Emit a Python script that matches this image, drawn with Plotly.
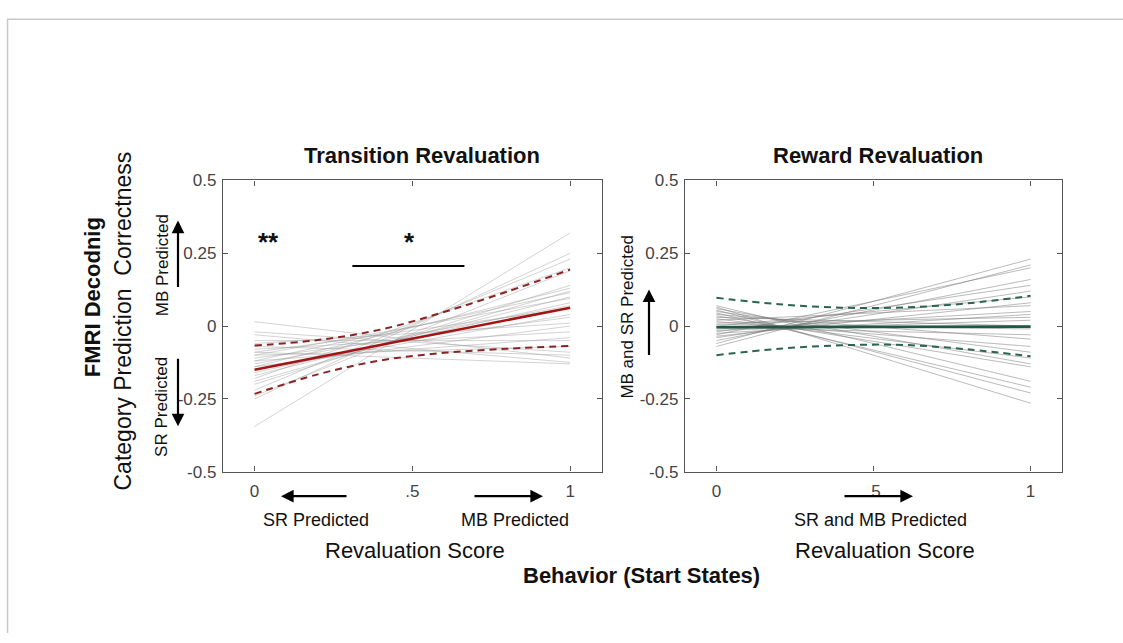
import plotly.graph_objects as go

# ---------------- data ----------------
x_fit = [0.0, 0.2, 0.4, 0.6, 0.8, 1.0]

# Transition revaluation (left)
tr_mean = [-0.150, -0.107, -0.065, -0.022, 0.020, 0.063]
tr_upper = [-0.067, -0.048, -0.012, 0.048, 0.118, 0.194]
tr_lower = [-0.233, -0.166, -0.118, -0.092, -0.078, -0.068]
tr_subj_start = [-0.345, -0.25, -0.22, -0.24, -0.18, -0.20, -0.14, -0.19, -0.12, -0.17,
                 -0.10, -0.16, -0.13, -0.09, -0.15, -0.11, -0.06, -0.14, -0.08, -0.12,
                 -0.05, -0.10, -0.02, -0.07, 0.015, -0.03, -0.09]
tr_subj_end = [0.32, 0.25, 0.23, 0.19, 0.20, 0.14, 0.13, 0.12, 0.115, 0.10,
               0.095, 0.08, 0.07, 0.06, 0.04, 0.03, 0.01, 0.0, -0.02, -0.04,
               -0.05, -0.07, -0.09, -0.10, -0.11, -0.125, -0.13]

# Reward revaluation (right)
rr_mean = [-0.004, -0.004, -0.003, -0.003, -0.002, -0.002]
rr_upper = [0.097, 0.075, 0.063, 0.064, 0.078, 0.104]
rr_lower = [-0.100, -0.078, -0.066, -0.065, -0.080, -0.104]
rr_subj_start = [-0.06, -0.07, -0.03, -0.05, -0.02, -0.04, 0.0, -0.035, 0.02, -0.01,
                 -0.025, 0.01, -0.015, 0.03, 0.005, -0.005, 0.04, 0.015, 0.05, 0.025,
                 0.06, 0.035, 0.07, 0.045, 0.055, 0.065]
rr_subj_end = [0.23, 0.21, 0.20, 0.16, 0.14, 0.12, 0.10, 0.08, 0.07, 0.05,
               0.04, 0.03, 0.02, 0.0, -0.01, -0.03, -0.045, -0.07, -0.09, -0.11,
               -0.13, -0.14, -0.19, -0.21, -0.23, -0.265]

x_tickvals = [0, 0.5, 1]
x_ticktext = ["0", ".5", "1"]
y_tickvals = [-0.5, -0.25, 0, 0.25, 0.5]
y_ticktext = ["-0.5", "-0.25", "0", "0.25", "0.5"]

# ---------------- layout helpers ----------------
W, H = 1123, 643


def px(X):
    return X / W


def py(Y):
    return 1 - Y / H


F = "Liberation Sans, Arial, Helvetica, sans-serif"


def subject_xy(starts, ends):
    xs, ys = [], []
    for s, e in zip(starts, ends):
        xs += [0, 1, None]
        ys += [s, e, None]
    return xs, ys


fig = go.Figure()

# left panel
sx, sy = subject_xy(tr_subj_start, tr_subj_end)
fig.add_trace(go.Scatter(x=sx, y=sy, mode="lines", xaxis="x", yaxis="y",
                         line=dict(color="rgba(150,150,150,0.42)", width=1), showlegend=False))
fig.add_trace(go.Scatter(x=x_fit, y=tr_upper, mode="lines", xaxis="x", yaxis="y", line_shape="spline",
                         line=dict(color="#8a2424", width=2, dash="7px,5px"), showlegend=False))
fig.add_trace(go.Scatter(x=x_fit, y=tr_lower, mode="lines", xaxis="x", yaxis="y", line_shape="spline",
                         line=dict(color="#8a2424", width=2, dash="7px,5px"), showlegend=False))
fig.add_trace(go.Scatter(x=x_fit, y=tr_mean, mode="lines", xaxis="x", yaxis="y",
                         line=dict(color="#a31515", width=2.6), showlegend=False))

# right panel
sx, sy = subject_xy(rr_subj_start, rr_subj_end)
fig.add_trace(go.Scatter(x=sx, y=sy, mode="lines", xaxis="x2", yaxis="y2",
                         line=dict(color="rgba(120,120,120,0.5)", width=1), showlegend=False))
fig.add_trace(go.Scatter(x=x_fit, y=rr_upper, mode="lines", xaxis="x2", yaxis="y2", line_shape="spline",
                         line=dict(color="#2c6450", width=2, dash="7px,5px"), showlegend=False))
fig.add_trace(go.Scatter(x=x_fit, y=rr_lower, mode="lines", xaxis="x2", yaxis="y2", line_shape="spline",
                         line=dict(color="#2c6450", width=2, dash="7px,5px"), showlegend=False))
fig.add_trace(go.Scatter(x=x_fit, y=rr_mean, mode="lines", xaxis="x2", yaxis="y2",
                         line=dict(color="#1d5a40", width=2.6), showlegend=False))

ydom = [py(476.7), py(176.7)]
axis_common = dict(showline=True, linecolor="#555", linewidth=1.4, mirror="ticks",
                   ticks="inside", ticklen=5, tickwidth=1.2, tickcolor="#555",
                   showgrid=False, zeroline=False,
                   tickfont=dict(family=F, size=17, color="#444"))

fig.update_layout(
    width=W, height=H,
    margin=dict(l=0, r=0, t=0, b=0),
    paper_bgcolor="white", plot_bgcolor="white",
    xaxis=dict(domain=[px(223), px(601.7)], range=[-0.1, 1.1], anchor="y",
               tickvals=x_tickvals, ticktext=x_ticktext, ticklabelstandoff=4, **axis_common),
    yaxis=dict(domain=ydom, range=[-0.5, 0.5], anchor="x",
               tickvals=y_tickvals, ticktext=y_ticktext, ticklabelstandoff=2, **axis_common),
    xaxis2=dict(domain=[px(685), px(1062)], range=[-0.1, 1.1], anchor="y2",
                tickvals=x_tickvals, ticktext=x_ticktext, ticklabelstandoff=4, **axis_common),
    yaxis2=dict(domain=ydom, range=[-0.5, 0.5], anchor="x2",
                tickvals=y_tickvals, ticktext=y_ticktext, ticklabelstandoff=2, **axis_common),
)

annotations = []


def ann(text, X, Y, size, angle=0, color="#111"):
    annotations.append(dict(text=text, xref="paper", yref="paper", x=px(X), y=py(Y),
                            showarrow=False, textangle=angle, xanchor="center", yanchor="middle",
                            font=dict(family=F, size=size, color=color)))


def arrow(tailX, tailY, tipX, tipY):
    annotations.append(dict(text="", xref="paper", yref="paper", x=px(tipX), y=py(tipY),
                            ax=tailX - tipX, ay=tailY - tipY, showarrow=True,
                            arrowhead=2, arrowsize=1.15, arrowwidth=2.2, arrowcolor="black"))


ann("<b>Transition Revaluation</b>", 422, 151, 22)
ann("<b>Reward Revaluation</b>", 878, 151, 22)
ann("<b>FMRI Decodnig</b>", 92, 297, 22, angle=-90)
ann("Category Prediction  Correctness", 123, 322, 23, angle=-90)
ann("MB Predicted", 162, 264, 17, angle=-90)
ann("SR Predicted", 162, 410, 17, angle=-90)
ann("MB and SR Predicted", 628, 318, 17, angle=-90)
ann("SR Predicted", 316, 527, 18)
ann("MB Predicted", 515, 527, 18)
ann("Revaluation Score", 415, 558, 22)
ann("SR and MB Predicted", 880, 527, 18)
ann("Revaluation Score", 885, 558, 22)
ann("<b>Behavior (Start States)</b>", 641, 584, 22)

arrow(178, 286, 178, 218)
arrow(178, 361, 178, 430)
arrow(649, 356, 649, 289)
arrow(348, 502, 281, 502)
arrow(473, 502, 543, 502)
arrow(843, 502, 913, 502)

# significance markers (data coordinates of left panel)
annotations.append(dict(text="<b>**</b>", xref="x", yref="y", x=0.045, y=0.29, showarrow=False,
                        font=dict(family=F, size=26, color="#111")))
annotations.append(dict(text="<b>*</b>", xref="x", yref="y", x=0.49, y=0.29, showarrow=False,
                        font=dict(family=F, size=26, color="#111")))

fig.update_layout(annotations=annotations)

shapes = [
    dict(type="line", xref="x", yref="y", x0=0.31, x1=0.665, y0=0.206, y1=0.206,
         line=dict(color="black", width=2)),
    # page border
    dict(type="line", xref="paper", yref="paper", x0=px(7), x1=1, y0=py(10.5), y1=py(10.5),
         line=dict(color="#c8c8c8", width=1.5)),
    dict(type="line", xref="paper", yref="paper", x0=px(7.5), x1=px(7.5), y0=py(10.5), y1=0,
         line=dict(color="#c8c8c8", width=1.5)),
]
fig.update_layout(shapes=shapes)

fig.write_html(
    "out.html",
    post_script="document.body.style.margin='0';document.body.style.overflow='hidden';",
    config={"displayModeBar": False},
)
